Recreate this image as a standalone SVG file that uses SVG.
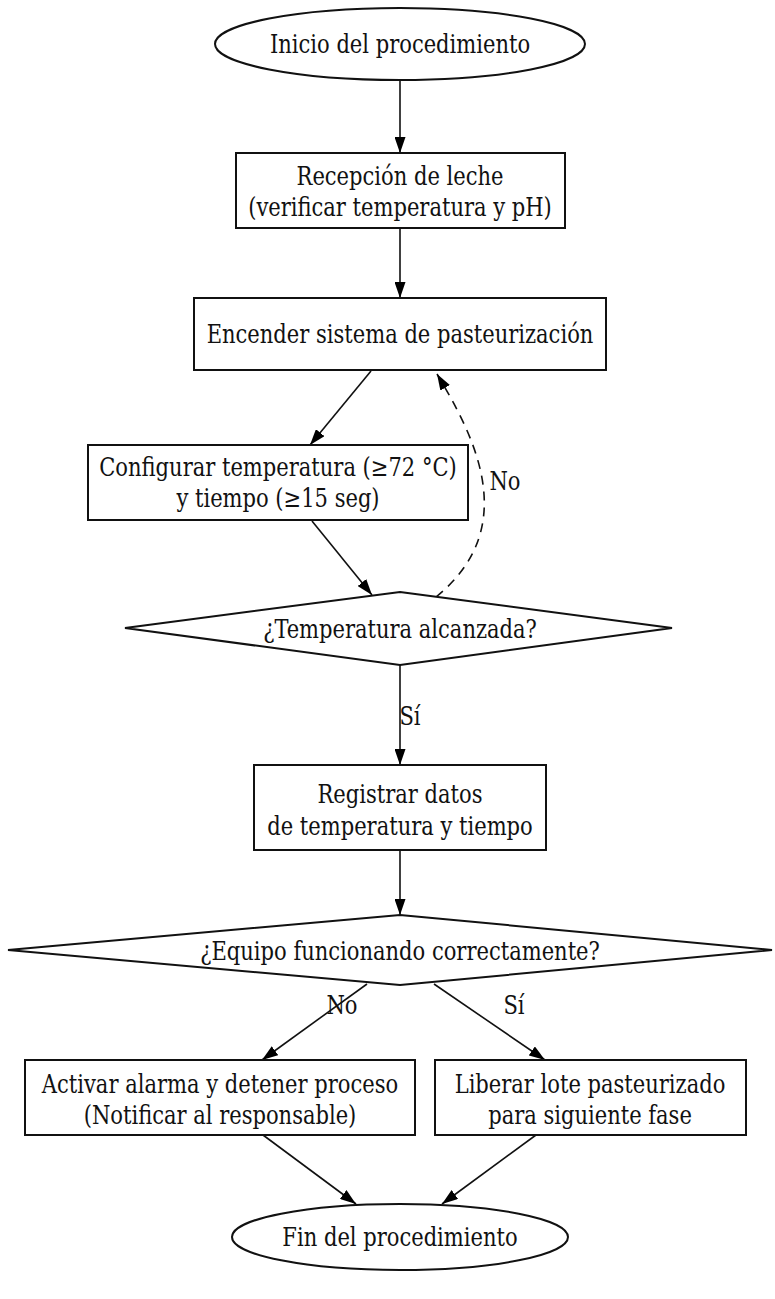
<svg xmlns="http://www.w3.org/2000/svg" width="775" height="1299" viewBox="0 0 775 1299">
  <defs>
    <marker id="arrow" viewBox="0 0 16 11" refX="16" refY="5.5" markerWidth="16" markerHeight="11" markerUnits="userSpaceOnUse" orient="auto">
      <path d="M0,0 L16,5.5 L0,11 Z" fill="#000"/>
    </marker>
    <style>
      .shape { fill: #fff; stroke: #111; stroke-width: 2; }
      .label { font-family: "DejaVu Serif Condensed", "DejaVu Serif", "Liberation Serif", serif; font-stretch: condensed; font-size: 26px; fill: #111; text-anchor: middle; }
      .edge { fill: none; stroke: #111; stroke-width: 1.6; marker-end: url(#arrow); }
      .dashed { stroke-dasharray: 9 7; }
    </style>
  </defs>
  <rect width="775" height="1299" fill="#fff"/>

  <!-- labels are narrowed horizontally to a tall, compact serif -->
  <g id="connectors">
    <line class="edge" x1="400" y1="80" x2="400" y2="153"/>
    <line class="edge" x1="400" y1="228" x2="400" y2="298"/>
    <line class="edge" x1="371" y1="371" x2="310" y2="445"/>
    <line class="edge" x1="312" y1="521" x2="372" y2="595"/>
    <path class="edge dashed" d="M436,597 C525,525 470,430 437,374"/>
    <text class="label" transform="translate(505,490) scale(0.9,1)">No</text>
    <line class="edge" x1="400" y1="665" x2="400" y2="765"/>
    <text class="label" transform="translate(410,725) scale(0.9,1)">Sí</text>
    <line class="edge" x1="400" y1="850" x2="400" y2="915"/>
    <line class="edge" x1="367" y1="984" x2="262" y2="1060"/>
    <text class="label" transform="translate(342,1014) scale(0.9,1)">No</text>
    <line class="edge" x1="434" y1="984" x2="545" y2="1060"/>
    <text class="label" transform="translate(514,1014) scale(0.9,1)">Sí</text>
    <line class="edge" x1="263" y1="1135" x2="356" y2="1204"/>
    <line class="edge" x1="536" y1="1135" x2="442" y2="1204"/>
  </g>

  <g id="inicio">
    <ellipse class="shape" cx="400" cy="44" rx="185" ry="36"/>
    <text class="label" transform="translate(400,53) scale(0.9,1)">Inicio del procedimiento</text>
  </g>

  <g id="recepcion">
    <rect class="shape" x="236" y="153" width="329" height="75"/>
    <text class="label" transform="translate(400,185) scale(0.9,1)">Recepción de leche</text>
    <text class="label" transform="translate(400,216) scale(0.9,1)">(verificar temperatura y pH)</text>
  </g>

  <g id="encender">
    <rect class="shape" x="194" y="298" width="412" height="72"/>
    <text class="label" transform="translate(400,343) scale(0.9,1)">Encender sistema de pasteurización</text>
  </g>

  <g id="configurar">
    <rect class="shape" x="88" y="445" width="380" height="75"/>
    <text class="label" transform="translate(278,476) scale(0.9,1)">Configurar temperatura (≥72 °C)</text>
    <text class="label" transform="translate(278,507) scale(0.9,1)">y tiempo (≥15 seg)</text>
  </g>

  <g id="temperatura">
    <polygon class="shape" points="400,592 672,628 400,665 125,628"/>
    <text class="label" transform="translate(400,638) scale(0.9,1)">¿Temperatura alcanzada?</text>
  </g>

  <g id="registrar">
    <rect class="shape" x="254" y="765" width="292" height="85"/>
    <text class="label" transform="translate(400,803) scale(0.9,1)">Registrar datos</text>
    <text class="label" transform="translate(400,835) scale(0.9,1)">de temperatura y tiempo</text>
  </g>

  <g id="equipo">
    <polygon class="shape" points="400,915 772,950 400,985 8,950"/>
    <text class="label" transform="translate(400,960) scale(0.9,1)">¿Equipo funcionando correctamente?</text>
  </g>

  <g id="alarma">
    <rect class="shape" x="25" y="1060" width="390" height="75"/>
    <text class="label" transform="translate(220,1093) scale(0.9,1)">Activar alarma y detener proceso</text>
    <text class="label" transform="translate(220,1124) scale(0.9,1)">(Notificar al responsable)</text>
  </g>

  <g id="liberar">
    <rect class="shape" x="435" y="1060" width="311" height="75"/>
    <text class="label" transform="translate(590,1093) scale(0.9,1)">Liberar lote pasteurizado</text>
    <text class="label" transform="translate(590,1124) scale(0.9,1)">para siguiente fase</text>
  </g>

  <g id="fin">
    <ellipse class="shape" cx="400" cy="1237" rx="168" ry="33"/>
    <text class="label" transform="translate(400,1246) scale(0.9,1)">Fin del procedimiento</text>
  </g>
</svg>
